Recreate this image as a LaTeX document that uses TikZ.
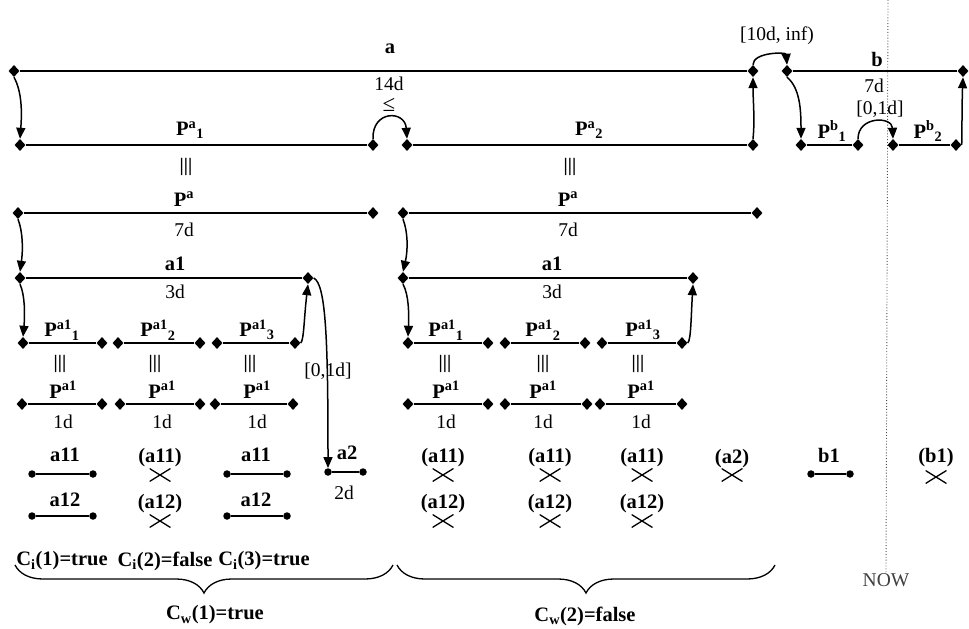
\documentclass[tikz,border=0pt]{standalone}
\usepackage{fontspec}
\setmainfont{Liberation Serif}
\usetikzlibrary{shapes.geometric,arrows.meta,decorations.pathreplacing}
\begin{document}
\begin{tikzpicture}[x=1pt,y=-1pt,
 dia/.style={diamond, fill=black, inner sep=0pt, minimum width=11pt, minimum height=12pt},
 dotn/.style={circle, fill=black, inner sep=0pt, minimum size=7.5pt},
 seg/.style={line width=1.6pt},
 arr/.style={line width=1.5pt, -{Triangle[length=11pt,width=9pt]}},
 lbl/.style={font=\fontsize{20.5}{22}\selectfont\bfseries, inner sep=0pt},
 txt/.style={font=\fontsize{19.5}{21}\selectfont, inner sep=0pt},
 eqv/.style={font=\fontsize{19}{21}\selectfont\bfseries, inner sep=0pt},
 crossn/.style={minimum width=21pt, minimum height=13pt, inner sep=0pt,
   path picture={\draw[line width=1.3pt] (path picture bounding box.north west) -- (path picture bounding box.south east) (path picture bounding box.south west) -- (path picture bounding box.north east);}},
 brc/.style={line width=1.3pt, decorate, decoration={brace, mirror, amplitude=28pt}},
]
\fill[white] (0,0) rectangle (969,629);
\useasboundingbox (0,0) rectangle (969,629);

% NOW line
\coordinate (nowtop) at (888,0);
\node[txt, text=black!75] (now) at (886,580) {NOW};
\draw[dotted, line width=0.9pt, black!70] (nowtop) -- (now.north);

% row A
\node[dia] (A0) at (14,71) {};
\node[dia] (A1) at (753,71) {};
\node[dia] (B0) at (787,71) {};
\node[dia] (B1) at (963,71) {};
\draw[seg] (A0) -- (A1);
\draw[seg] (B0) -- (B1);
\node[lbl] (la) at (390,49) {a};
\node[txt] (l14d) at (389,84) {14d};
\node[txt, font=\fontsize{23}{24}\selectfont] (lle) at (389,105) {≤};
\node[txt] (l10d) at (777,36) {[10d, inf)};
\node[lbl] (lb) at (877,59) {b};
\node[txt] (l7db) at (874,86) {7d};

% row P
\node[dia] (P1L) at (20,145) {};
\node[dia] (P1R) at (373,145) {};
\node[dia] (P2L) at (407,145) {};
\node[dia] (P2R) at (753,145) {};
\node[dia] (Q1L) at (801,145) {};
\node[dia] (Q1R) at (858,145) {};
\node[dia] (Q2L) at (893,145) {};
\node[dia] (Q2R) at (956,145) {};
\draw[seg] (P1L) -- (P1R);
\draw[seg] (P2L) -- (P2R);
\draw[seg] (Q1L) -- (Q1R);
\draw[seg] (Q2L) -- (Q2R);
\node[lbl] (lp1) at (190,130) {P\textsuperscript{a}\textsubscript{1}};
\node[lbl] (lp2) at (589,130) {P\textsuperscript{a}\textsubscript{2}};
\node[lbl] (lq1) at (832,131) {P\textsuperscript{b}\textsubscript{1}};
\node[lbl] (lq2) at (928,131) {P\textsuperscript{b}\textsubscript{2}};
\node[txt] (l01b) at (880,109) {[0,1d]};
\node[eqv] (e1) at (186,167) {|||};
\node[eqv] (e2) at (570,167) {|||};

% arrows top
\draw[arr] (A0.south) .. controls (22,92) and (22,112) .. (P1L.north);
\draw[arr] (P1R.north) .. controls (372,110) and (405,110) .. (P2L.north);
\draw[arr] (P2R.north) .. controls (755,120) and (753,100) .. (A1.south);
\draw[arr] (A1.north) .. controls (753,52) and (786,52) .. (B0.north);
\draw[arr] (B0.south) .. controls (800,88) and (801,110) .. (Q1L.north);
\draw[arr] (Q1R.north) .. controls (858,116) and (892,116) .. (Q2L.north);
\draw[arr] (Q2R.east) .. controls (962,132) and (962,100) .. (B1.south);

% row Pa
\node[dia] (PaL) at (18,213) {};
\node[dia] (PaR) at (373,213) {};
\node[dia] (PbL) at (403,213) {};
\node[dia] (PbR) at (757,213) {};
\draw[seg] (PaL) -- (PaR);
\draw[seg] (PbL) -- (PbR);
\node[lbl] (lpa) at (184,199) {P\textsuperscript{a}};
\node[lbl] (lpb) at (568,199) {P\textsuperscript{a}};
\node[txt] (l7da) at (184,230) {7d};
\node[txt] (l7dc) at (568,230) {7d};

% row a1
\node[dia] (AL) at (20,278) {};
\node[dia] (AR) at (308,278) {};
\node[dia] (CL) at (403,278) {};
\node[dia] (CR) at (693,278) {};
\draw[seg] (AL) -- (AR);
\draw[seg] (CL) -- (CR);
\node[lbl] (la1) at (175,264) {a1};
\node[lbl] (lc1) at (552,264) {a1};
\node[txt] (l3da) at (175,292) {3d};
\node[txt] (l3dc) at (552,292) {3d};
\draw[arr] (PaL.south) .. controls (23,232) and (23,250) .. (AL.north);
\draw[arr] (PbL.south) .. controls (408,232) and (408,250) .. (CL.north);

% row P^{a1}_i
\foreach \n/\x in {L1a/23,L1b/102,L2a/118,L2b/200,L3a/217,L3b/295,R1a/408,R1b/488,R2a/505,R2b/585,R3a/602,R3b/682}
  \node[dia] (\n) at (\x,343) {};
\foreach \p in {L1,L2,L3,R1,R2,R3} \draw[seg] (\p a) -- (\p b);
\node[lbl] (ll1) at (62,330) {P\textsuperscript{a1}\textsubscript{1}};
\node[lbl] (ll2) at (158,330) {P\textsuperscript{a1}\textsubscript{2}};
\node[lbl] (ll3) at (257,330) {P\textsuperscript{a1}\textsubscript{3}};
\node[lbl] (lr1) at (446,330) {P\textsuperscript{a1}\textsubscript{1}};
\node[lbl] (lr2) at (543,330) {P\textsuperscript{a1}\textsubscript{2}};
\node[lbl] (lr3) at (643,330) {P\textsuperscript{a1}\textsubscript{3}};
\draw[arr] (AL.south) .. controls (25,295) and (25,315) .. (L1a.north);
\draw[arr] (CL.south) .. controls (409,295) and (409,315) .. (R1a.north);
\draw[arr] (L3b.east) .. controls (304,340) and (304,318) .. (AR.south);
\draw[arr] (R3b.east) .. controls (691,340) and (691,318) .. (CR.south);
\foreach \n/\x in {e3/60,e4/155,e5/250,e6/445,e7/543,e8/638}
  \node[eqv] (\n) at (\x,364) {|||};

% row P^a1
\foreach \n/\x in {M1a/22,M1b/102,M2a/120,M2b/200,M3a/215,M3b/293,N1a/408,N1b/488,N2a/505,N2b/587,N3a/600,N3b/682}
  \node[dia] (\n) at (\x,404) {};
\foreach \p in {M1,M2,M3,N1,N2,N3} \draw[seg] (\p a) -- (\p b);
\foreach \n/\x in {pm1/63,pm2/162,pm3/257,pn1/446,pn2/543,pn3/641}
  \node[lbl] (\n) at (\x,390) {P\textsuperscript{a1}};
\foreach \n/\x in {dm1/63,dm2/162,dm3/257,dn1/446,dn2/543,dn3/641}
  \node[txt] (\n) at (\x,422) {1d};

% a2 and [0,1d]
\node[dotn] (E0) at (328,472) {};
\node[dotn] (E1) at (363,472) {};
\draw[seg] (E0) -- (E1);
\node[lbl] (la2) at (347,453) {a2};
\node[txt] (l2d) at (344,493) {2d};
\node[txt] (l01a) at (328,371) {[0,1d]};
\draw[arr] (AR.east) .. controls (326,284) and (328,340) .. (E0.north);

% a11 / a12
\node[dotn] (D1a) at (32,474) {};
\node[dotn] (D1b) at (93,474) {};
\node[dotn] (D2a) at (32,516) {};
\node[dotn] (D2b) at (93,516) {};
\node[dotn] (D3a) at (227,474) {};
\node[dotn] (D3b) at (287,474) {};
\node[dotn] (D4a) at (227,516) {};
\node[dotn] (D4b) at (287,516) {};
\node[dotn] (F0) at (811,474) {};
\node[dotn] (F1) at (850,474) {};
\foreach \p in {D1,D2,D3,D4} \draw[seg] (\p a) -- (\p b);
\draw[seg] (F0) -- (F1);
\node[lbl] (t1) at (65,455) {a11};
\node[lbl] (t2) at (65,500) {a12};
\node[lbl] (t3) at (256,455) {a11};
\node[lbl] (t4) at (256,500) {a12};
\node[lbl] (t5) at (829,455) {b1};

\foreach \n/\x/\y in {X1/160/475,X2/160/521,X3/443/475,X4/443/521,X5/550/475,X6/550/521,X7/642/475,X8/642/521,X9/732/475,X10/936/477}
  \node[crossn] (\n) at (\x,\y) {};
\foreach \n/\x in {u1/160,u3/443,u5/550,u7/642}
  \node[lbl] (\n) at (\x,458) {(a11)};
\foreach \n/\x in {u2/160,u4/443,u6/550,u8/642}
  \node[lbl] (\n) at (\x,504) {(a12)};
\node[lbl] (u9) at (732,459) {(a2)};
\node[lbl] (u10) at (936,458) {(b1)};

% conditions
\node[lbl] (c1) at (62,561) {C\textsubscript{i}(1)=true};
\node[lbl] (c2) at (165,561) {C\textsubscript{i}(2)=false};
\node[lbl] (c3) at (264,561) {C\textsubscript{i}(3)=true};
\coordinate (br1a) at (15,565);
\coordinate (br1b) at (393,565);
\coordinate (br2a) at (397,565);
\coordinate (br2b) at (775,565);
\draw[brc] (br1a) -- (br1b);
\draw[brc] (br2a) -- (br2b);
\node[lbl] (w1) at (215,615) {C\textsubscript{w}(1)=true};
\node[lbl] (w2) at (585,616) {C\textsubscript{w}(2)=false};
\end{tikzpicture}
\end{document}
